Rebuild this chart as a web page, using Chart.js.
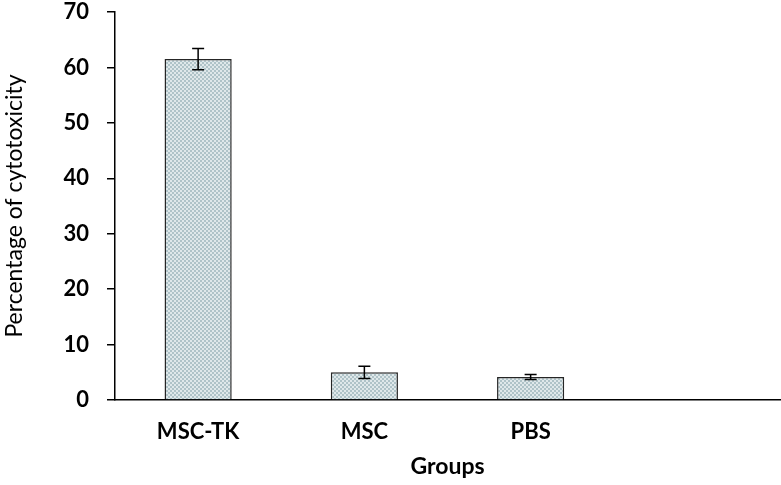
<!DOCTYPE html>
<html>
<head>
<meta charset="utf-8">
<script src="https://cdn.jsdelivr.net/npm/chart.js@4.4.1/dist/chart.umd.min.js"></script>
<style>
  body { margin: 0; background: #fff; }
  canvas { display: block; }
</style>
</head>
<body>
<canvas id="myChart" width="781" height="485"></canvas>
<script>
// data
const groups = ['MSC-TK', 'MSC', 'PBS', ''];
const cytotoxicity = [61.5, 5.0, 4.15, null];
const errors = [1.9, 1.1, 0.45, null];
const yTicks = [0, 10, 20, 30, 40, 50, 60, 70];

// checkered light blue fill like the original
function makePattern() {
    const c = document.createElement('canvas');
    c.width = 4;
    c.height = 4;
    const ctx = c.getContext('2d');
    ctx.fillStyle = '#dfe8ea';
    ctx.fillRect(0, 0, 4, 4);
    ctx.fillStyle = '#afc3c8';
    ctx.fillRect(0, 0, 2, 2);
    ctx.fillRect(2, 2, 2, 2);
    return ctx.createPattern(c, 'repeat');
}

// error bars drawn on top of the bars
const errorBars = {
    id: 'errorBars',
    afterDatasetsDraw(chart) {
        const ctx = chart.ctx;
        const yScale = chart.scales.y;
        const meta = chart.getDatasetMeta(0);
        ctx.save();
        ctx.strokeStyle = '#000000';
        ctx.lineWidth = 1.5;
        meta.data.forEach((bar, i) => {
            const v = cytotoxicity[i];
            const e = errors[i];
            if (v == null || e == null) return;
            const top = yScale.getPixelForValue(v + e);
            const bottom = yScale.getPixelForValue(v - e);
            const x = bar.x;
            const cap = 6;
            ctx.beginPath();
            ctx.moveTo(x, top);
            ctx.lineTo(x, bottom);
            ctx.moveTo(x - cap, top);
            ctx.lineTo(x + cap, top);
            ctx.moveTo(x - cap, bottom);
            ctx.lineTo(x + cap, bottom);
            ctx.stroke();
        });
        ctx.restore();
    }
};

const fontFamily = 'Lato, "Open Sans", sans-serif';

const config = {
    type: 'bar',
    data: {
        labels: groups,
        datasets: [{
            data: cytotoxicity,
            backgroundColor: makePattern(),
            borderColor: '#262626',
            borderWidth: 1.5,
            categoryPercentage: 1,
            barPercentage: 0.404
        }]
    },
    options: {
        responsive: false,
        animation: false,
        layout: {
            padding: { top: 12, right: 1, left: 0, bottom: 0 }
        },
        scales: {
            y: {
                min: 0,
                max: 70,
                afterFit: (scale) => {
                    scale.width = 115;
                    scale.paddingTop = 0;
                    scale.paddingBottom = 0;
                },
                afterBuildTicks: (scale) => {
                    scale.ticks = yTicks.map(v => ({ value: v }));
                },
                ticks: {
                    color: '#000000',
                    padding: 18,
                    font: { family: fontFamily, size: 22, weight: 'bold' }
                },
                grid: {
                    drawOnChartArea: false,
                    drawTicks: true,
                    tickLength: 8,
                    color: '#000000',
                    lineWidth: 1.5
                },
                border: { display: true, color: '#000000', width: 1.5 },
                title: {
                    display: true,
                    text: 'Percentage of cytotoxicity',
                    color: '#000000',
                    padding: { top: 1, bottom: 0 },
                    font: { family: fontFamily, size: 23, weight: 'normal', lineHeight: 1.2 }
                }
            },
            x: {
                afterFit: (scale) => {
                    scale.height = 85;
                    scale.paddingLeft = 0;
                    scale.paddingRight = 0;
                },
                ticks: {
                    color: '#000000',
                    padding: 19,
                    font: { family: fontFamily, size: 22, weight: 'bold' }
                },
                grid: { display: false, drawTicks: false },
                border: { display: true, color: '#000000', width: 1.5 },
                title: {
                    display: true,
                    text: 'Groups',
                    color: '#000000',
                    padding: { top: 0, bottom: 5 },
                    font: { family: fontFamily, size: 23, weight: 'bold', lineHeight: 1.2 }
                }
            }
        },
        plugins: {
            legend: { display: false },
            tooltip: { enabled: false }
        }
    },
    plugins: [errorBars]
};

const myChart = new Chart(document.getElementById('myChart'), config);
</script>
</body>
</html>
